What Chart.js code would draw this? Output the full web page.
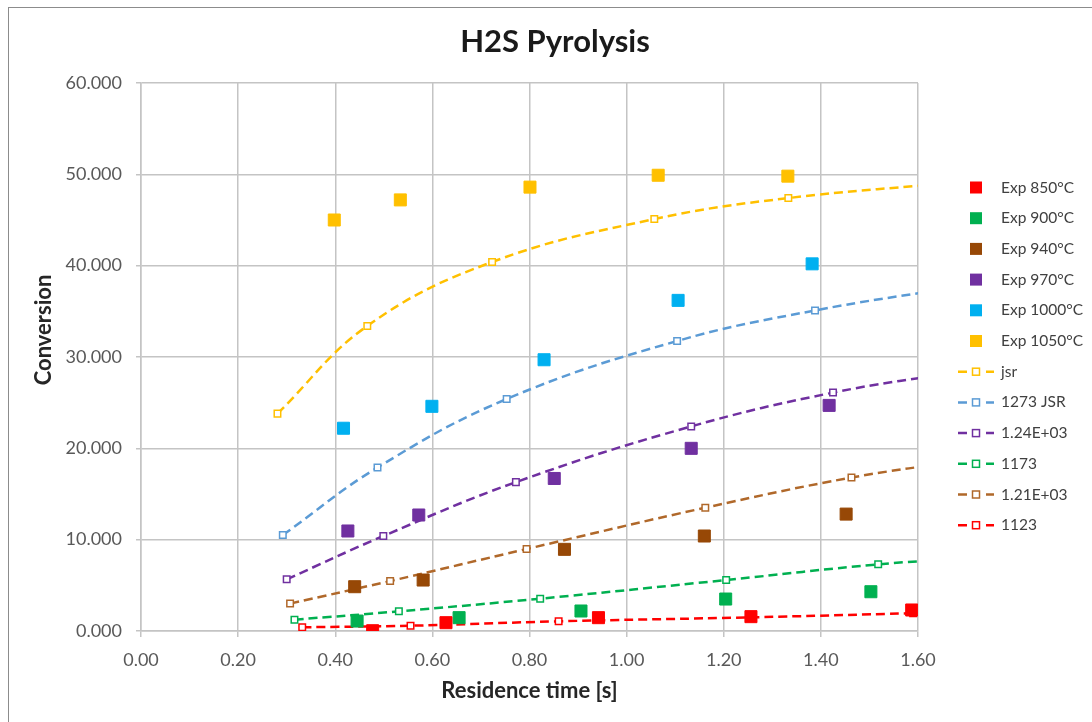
<!DOCTYPE html>
<html>
<head>
<meta charset="utf-8">
<title>H2S Pyrolysis</title>
<script src="https://cdn.jsdelivr.net/npm/chart.js@4.4.1/dist/chart.umd.min.js"></script>
<style>
  html, body { margin: 0; padding: 0; background: #fff; }
  #wrap { width: 1092px; height: 722px; position: relative; }
</style>
</head>
<body>
<div id="wrap"><canvas id="pyroChart"></canvas></div>
<script>
// Axis ticks
const timeTicks = [0, 0.2, 0.4, 0.6, 0.8, 1.0, 1.2, 1.4, 1.6];
const convTicks = [0, 10, 20, 30, 40, 50, 60];

// Experiments: residence time [s] / conversion
const exp850Time = [0.477, 0.628, 0.942, 1.256, 1.587];
const exp850Conv = [0.03, 0.91, 1.46, 1.57, 2.30];
const exp900Time = [0.445, 0.655, 0.906, 1.204, 1.503];
const exp900Conv = [1.09, 1.46, 2.19, 3.50, 4.30];
const exp940Time = [0.440, 0.581, 0.872, 1.160, 1.452];
const exp940Conv = [4.85, 5.58, 8.94, 10.4, 12.8];
const exp970Time = [0.426, 0.572, 0.851, 1.133, 1.417];
const exp970Conv = [10.95, 12.7, 16.7, 20.0, 24.7];
const exp1000Time = [0.417, 0.599, 0.830, 1.106, 1.382];
const exp1000Conv = [22.2, 24.6, 29.7, 36.2, 40.2];
const exp1050Time = [0.398, 0.534, 0.801, 1.065, 1.332];
const exp1050Conv = [45.0, 47.2, 48.6, 49.9, 49.8];

// Model runs (last point lies past the axis end)
const jsrTime = [0.281, 0.466, 0.723, 1.057, 1.333, 1.70];
const jsrConv = [23.8, 33.4, 40.4, 45.1, 47.4, 49.2];
const jsr1273Time = [0.292, 0.487, 0.753, 1.104, 1.388, 1.70];
const jsr1273Conv = [10.5, 17.9, 25.4, 31.75, 35.1, 37.8];
const m1240Time = [0.300, 0.499, 0.772, 1.133, 1.425, 1.70];
const m1240Conv = [5.66, 10.4, 16.3, 22.4, 26.1, 28.5];
const m1173Time = [0.316, 0.531, 0.822, 1.205, 1.518, 1.70];
const m1173Conv = [1.24, 2.15, 3.54, 5.58, 7.30, 7.95];
const m1210Time = [0.307, 0.513, 0.794, 1.162, 1.463, 1.70];
const m1210Conv = [3.0, 5.47, 8.98, 13.5, 16.8, 18.7];
const m1123Time = [0.332, 0.555, 0.860, 1.260, 1.590, 1.70];
const m1123Conv = [0.41, 0.58, 1.06, 1.50, 1.95, 2.10];

const FONT = "Lato, 'Open Sans', sans-serif";

function pts(xs, ys) {
  return xs.map((x, i) => ({ x: x, y: ys[i] }));
}

function expSet(label, xs, ys, color) {
  return {
    label: label,
    data: pts(xs, ys),
    showLine: false,
    pointStyle: "rect",
    pointRadius: 8.5,
    pointHoverRadius: 8.5,
    backgroundColor: color,
    borderColor: color,
    pointBorderWidth: 1,
    kind: "exp",
  };
}

function modelSet(label, xs, ys, color) {
  return {
    label: label,
    data: pts(xs, ys),
    showLine: true,
    tension: 0.4,
    borderColor: color,
    borderWidth: 2.5,
    borderDash: [9, 5],
    pointStyle: "rect",
    pointRadius: 4.6,
    pointHoverRadius: 4.6,
    pointBackgroundColor: "#ffffff",
    pointBorderColor: color,
    pointBorderWidth: 1.5,
    kind: "model",
  };
}

const datasets = [
  expSet("Exp 850°C", exp850Time, exp850Conv, "#ff0000"),
  expSet("Exp 900°C", exp900Time, exp900Conv, "#00b050"),
  expSet("Exp 940°C", exp940Time, exp940Conv, "#974806"),
  expSet("Exp 970°C", exp970Time, exp970Conv, "#7030a0"),
  expSet("Exp 1000°C", exp1000Time, exp1000Conv, "#00b0f0"),
  expSet("Exp 1050°C", exp1050Time, exp1050Conv, "#ffc000"),
  modelSet("jsr", jsrTime, jsrConv, "#ffc000"),
  modelSet("1273 JSR", jsr1273Time, jsr1273Conv, "#5b9bd5"),
  modelSet("1.24E+03", m1240Time, m1240Conv, "#7030a0"),
  modelSet("1173", m1173Time, m1173Conv, "#00b050"),
  modelSet("1.21E+03", m1210Time, m1210Conv, "#b0682a"),
  modelSet("1123", m1123Time, m1123Conv, "#ff0000"),
];

// white background, outer frame, chart title and y title
const decorations = {
  id: "decorations",
  beforeDraw(chart) {
    const c = chart.ctx;
    c.save();
    c.fillStyle = "#ffffff";
    c.fillRect(0, 0, chart.width, chart.height);
    c.strokeStyle = "#8c8c8c";
    c.lineWidth = 1;
    c.strokeRect(8.5, 7.5, chart.width + 20, chart.height + 20);
    c.restore();
  },
  afterDraw(chart) {
    const c = chart.ctx;
    c.save();
    c.fillStyle = "#1a1a1a";
    c.font = "bold 31px " + FONT;
    c.textAlign = "center";
    c.textBaseline = "middle";
    c.fillText("H2S Pyrolysis", 555, 42);

    c.fillStyle = "#262626";
    c.font = "bold 22px " + FONT;
    c.translate(44, 330);
    c.rotate(-Math.PI / 2);
    c.fillText("Conversion", 0, 0);
    c.restore();
  },
};

// legend on the right: square for experiments, dash-marker-dash for models
const sideLegend = {
  id: "sideLegend",
  afterDraw(chart) {
    const c = chart.ctx;
    const area = chart.chartArea;
    const cx = area.right + 58;
    const tx = area.right + 83;
    const y0 = area.top + 104.5;
    const step = 30.7;
    c.save();
    c.font = "15.5px " + FONT;
    c.textBaseline = "middle";
    chart.data.datasets.forEach((ds, i) => {
      const y = y0 + i * step;
      if (ds.kind === "exp") {
        c.fillStyle = ds.backgroundColor;
        c.fillRect(cx - 6, y - 6, 12, 12);
      } else {
        c.strokeStyle = ds.borderColor;
        c.lineWidth = 2.5;
        c.beginPath();
        c.moveTo(cx - 18, y);
        c.lineTo(cx - 9, y);
        c.moveTo(cx + 10, y);
        c.lineTo(cx + 18, y);
        c.stroke();
        c.fillStyle = "#ffffff";
        c.fillRect(cx - 3.5, y - 3.5, 7, 7);
        c.lineWidth = 1.5;
        c.strokeRect(cx - 3.5, y - 3.5, 7, 7);
      }
      c.fillStyle = "#404040";
      c.textAlign = "left";
      c.fillText(ds.label, tx, y);
    });
    c.restore();
  },
};

const gridColor = "rgb(196,196,196)";

const ctx = document.getElementById("pyroChart").getContext("2d");
new Chart(ctx, {
  type: "scatter",
  data: { datasets: datasets },
  options: {
    responsive: true,
    maintainAspectRatio: false,
    animation: false,
    layout: { padding: { left: 0, right: 174, top: 83, bottom: 18 } },
    plugins: {
      legend: { display: false },
      tooltip: { enabled: false },
      title: { display: false },
    },
    scales: {
      x: {
        type: "linear",
        min: 0,
        max: 1.6,
        afterBuildTicks: (s) => { s.ticks = timeTicks.map((v) => ({ value: v })); },
        afterFit: (s) => { s.height = 73; },
        ticks: {
          font: { family: FONT, size: 18 },
          color: "#595959",
          padding: 12,
          maxRotation: 0,
          callback: (v) => Number(v).toFixed(2),
        },
        grid: { color: gridColor, lineWidth: 1.5, tickLength: 6 },
        border: { color: gridColor, width: 1.5 },
        title: {
          display: true,
          text: "Residence time [s]",
          font: { family: FONT, size: 22, weight: "bold" },
          color: "#262626",
          padding: 0,
        },
      },
      y: {
        type: "linear",
        min: 0,
        max: 60,
        afterBuildTicks: (s) => { s.ticks = convTicks.map((v) => ({ value: v })); },
        afterFit: (s) => { s.width = 141; },
        ticks: {
          font: { family: FONT, size: 18 },
          color: "#595959",
          padding: 14,
          callback: (v) => Number(v).toFixed(3),
        },
        grid: { color: gridColor, lineWidth: 1.5, tickLength: 5 },
        border: { color: gridColor, width: 1.5 },
      },
    },
  },
  plugins: [decorations, sideLegend],
});
</script>
</body>
</html>
